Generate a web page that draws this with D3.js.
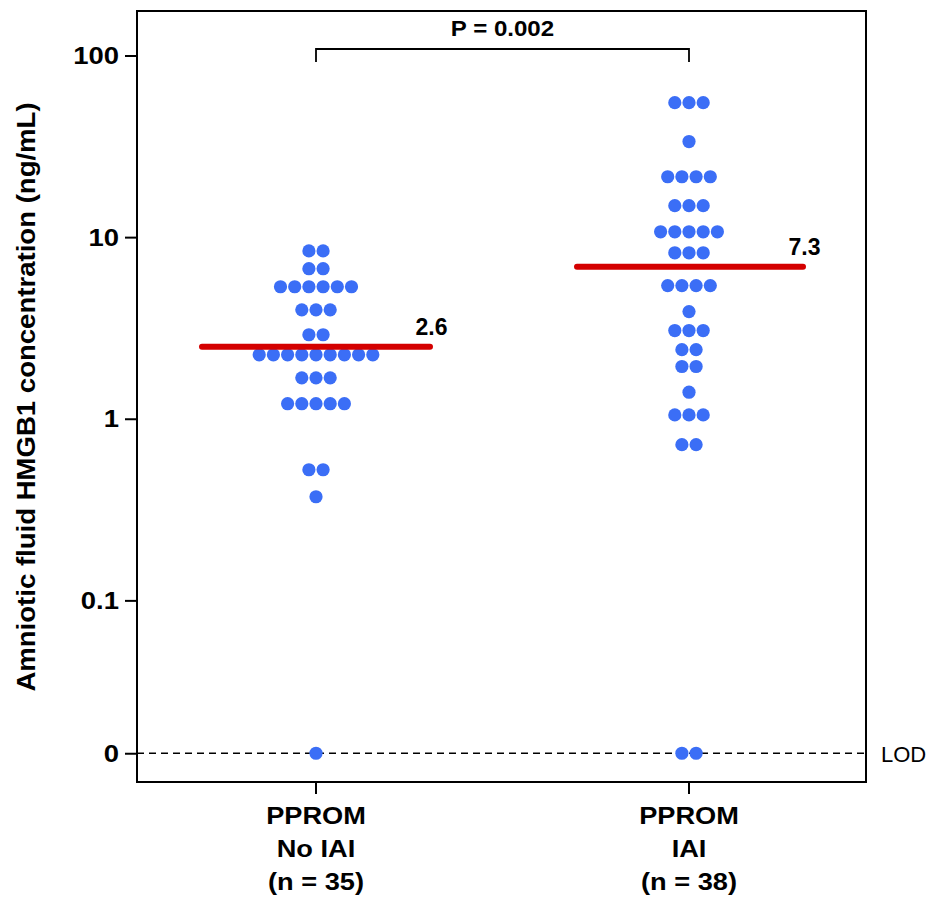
<!DOCTYPE html>
<html><head><meta charset="utf-8">
<script src="https://cdn.jsdelivr.net/npm/d3@7/dist/d3.min.js"></script>
<style>body{margin:0;background:#fff}svg{display:block}text{font-family:"Liberation Sans",Arial,sans-serif}</style>
</head><body>
<script>
// ---- data ----
const groups = ["PPROM No IAI", "PPROM IAI"];
const groupLabelLines = [["PPROM","No IAI","(n = 35)"],["PPROM","IAI","(n = 38)"]];
// value 0 means below limit of detection (plotted on LOD line)
const noIAI = [8.4,8.4, 6.7,6.7, 5.33,5.33,5.33,5.33,5.33,5.33, 3.98,3.98,3.98, 2.9,2.9,
  2.25,2.25,2.25,2.25,2.25,2.25,2.25,2.25,2.25, 1.68,1.68,1.68, 1.21,1.21,1.21,1.21,1.21,
  0.524,0.524, 0.372, 0];
const IAI = [55,55,55, 33.6, 21.5,21.5,21.5,21.5, 14.9,14.9,14.9, 10.7,10.7,10.7,10.7,10.7,
  8.2,8.2,8.2, 5.41,5.41,5.41,5.41, 3.89, 3.06,3.06,3.06, 2.4,2.4, 1.94,1.94, 1.4,
  1.05,1.05,1.05, 0.72,0.72, 0,0];
const medians = [2.49, 6.86];
const medianLabels = ["2.6", "7.3"];
const yTickValues = [0, 0.1, 1, 10, 100];
const yTickLabels = ["0", "0.1", "1", "10", "100"];
const pLabel = "P = 0.002";
const lodLabel = "LOD";
const yTitle = "Amniotic fluid HMGB1 concentration (ng/mL)";
const LOD_POS = 0.0144; // where "0" sits on the log axis

const W = 933, H = 897;
const svg = d3.select("body").append("svg").attr("width", W).attr("height", H);
const pL = 137, pR = 866, pT = 11, pB = 782;

const y = d3.scaleLog().domain([0.01, Math.pow(10, 2.245)]).range([pB, pT]);
const yv = v => y(v === 0 ? LOD_POS : v);
const x = d3.scalePoint().domain(groups).range([316, 689]);

function addText(tx, ty, str, size, bold, anchor, sx, rot) {
  let tr = `translate(${tx},${ty})`;
  if (rot) tr += ` rotate(${rot})`;
  if (sx && sx !== 1) tr += ` scale(${sx},1)`;
  return svg.append("text").attr("transform", tr).attr("text-anchor", anchor || "start")
    .attr("font-size", size).attr("font-weight", bold ? "bold" : "normal").attr("fill", "#000").text(str);
}

// LOD dashed line
svg.append("line").attr("x1", pL).attr("x2", pR)
  .attr("y1", yv(0)).attr("y2", yv(0))
  .attr("stroke", "#000").attr("stroke-width", 1.3).attr("stroke-dasharray", "7,5");
addText(881, 762, lodLabel, 22, false, "start", 1);

// frame
svg.append("rect").attr("x", pL).attr("y", pT).attr("width", pR - pL).attr("height", pB - pT)
  .attr("fill", "none").attr("stroke", "#000").attr("stroke-width", 2);

// y axis (ticks via d3 axis, labels restyled)
const yAxis = d3.axisLeft(y).tickValues(yTickValues.map(v => v === 0 ? LOD_POS : v))
  .tickFormat("").tickSize(12);
const ga = svg.append("g").attr("transform", `translate(${pL},0)`).call(yAxis);
ga.select(".domain").remove();
ga.selectAll("line").attr("stroke-width", 2);
yTickValues.forEach((v, i) => {
  addText(119, yv(v) + 8.7, yTickLabels[i], 24.5, true, "end", 1.12);
});

// x axis ticks and labels
groups.forEach((g, i) => {
  svg.append("line").attr("x1", x(g)).attr("x2", x(g)).attr("y1", pB).attr("y2", pB + 12)
    .attr("stroke", "#000").attr("stroke-width", 2);
  groupLabelLines[i].forEach((t, j) => {
    addText(x(g), 824 + j * 33, t, 24.3, true, "middle", 1.12);
  });
});

// y title
addText(35, 397, yTitle, 26, true, "middle", 1.06, -90);

// dots
const step = 14.2, r = 6.6;
[noIAI, IAI].forEach((vals, gi) => {
  const byVal = d3.groups(vals, v => v);
  byVal.forEach(([v, arr]) => {
    const n = arr.length;
    arr.forEach((_, k) => {
      svg.append("circle").attr("cx", x(groups[gi]) + (k - (n - 1) / 2) * step)
        .attr("cy", yv(v)).attr("r", r).attr("fill", "#3b6ef6");
    });
  });
});

// medians
const medExt = [[202, 430], [577, 803]];
medians.forEach((m, i) => {
  svg.append("line").attr("x1", medExt[i][0]).attr("x2", medExt[i][1])
    .attr("y1", y(m)).attr("y2", y(m)).attr("stroke", "#d40000").attr("stroke-width", 6)
    .attr("stroke-linecap", "round");
  addText(medExt[i][1] + 1.5, y(m) - 12, medianLabels[i], 23, true, "middle", 1);
});

// p-value bracket
const by = 49;
svg.append("path").attr("d", `M${x(groups[0])},${by + 13}V${by}H${x(groups[1])}V${by + 13}`)
  .attr("fill", "none").attr("stroke", "#000").attr("stroke-width", 1.8);
addText((x(groups[0]) + x(groups[1])) / 2, 36, pLabel, 22.3, true, "middle", 1.08);
</script>
</body></html>
